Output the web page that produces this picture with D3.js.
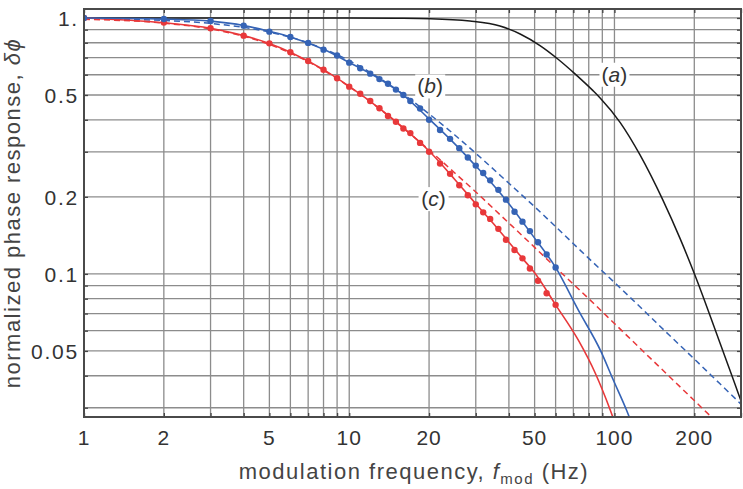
<!DOCTYPE html>
<html>
<head>
<meta charset="utf-8">
<script src="https://cdn.jsdelivr.net/npm/d3@7"></script>
<style>
  html, body { margin: 0; padding: 0; background: #fff; }
  svg { display: block; font-family: "Liberation Sans", Arial, sans-serif; }
</style>
</head>
<body>
<svg id="chart" width="743" height="489"></svg>
<script>
// ---------- data ----------
const xTickValues = [1, 2, 5, 10, 20, 50, 100, 200];
const xTickLabels = ["1", "2", "5", "10", "20", "50", "100", "200"];
const yTickValues = [1, 0.5, 0.2, 0.1, 0.05];
const yTickLabels = ["1.", "0.5", "0.2", "0.1", "0.05"];
const xGrid = [1,2,3,4,5,6,7,8,9,10,20,30,40,50,60,70,80,90,100,200,300];
const yGrid = [0.03,0.04,0.05,0.06,0.07,0.08,0.09,0.1,0.2,0.3,0.4,0.5,0.6,0.7,0.8,0.9,1];

// measured points (frequency in Hz)
const measFreq = [1,2,3,4,5,6,7,8,9,10,11,12,13,14,15,16,17,18.5,20,22,24,26,28,30,32,34,36.5,39,42,45,48,51.5,55.5,60];
const measB = [1.0,0.991,0.973,0.933,0.884,0.843,0.799,0.752,0.713,0.669,0.636,0.606,0.577,0.553,0.525,0.500,0.474,0.443,0.400,0.365,0.337,0.310,0.285,0.265,0.248,0.232,0.213,0.195,0.175,0.160,0.147,0.133,0.119,0.106];
const measC = [1.0,0.959,0.912,0.853,0.796,0.735,0.679,0.628,0.581,0.539,0.506,0.474,0.444,0.414,0.393,0.370,0.355,0.325,0.300,0.270,0.246,0.222,0.203,0.187,0.174,0.164,0.150,0.136,0.124,0.115,0.105,0.094,0.084,0.0757];

// model curve (a)
const curveAFreq = [1,5,10,15,20.2,28.5,37,44.1,52.4,61.3,71,83,88.3,105,125,152,177,201,250,298,310];
const curveAVal  = [1,1,1,0.998,0.994,0.973,0.930,0.866,0.780,0.690,0.605,0.520,0.487,0.391,0.291,0.195,0.137,0.099,0.0537,0.0325,0.0289];

// fitted solid curves (b) and (c)
const fitBFreq = [1,2,3,4,5,6,8,10,13,16,20,25,30,35,40,45,50,60,73,89,99,111,118];
const fitBVal  = [1,0.99,0.972,0.935,0.886,0.843,0.754,0.67,0.578,0.500,0.403,0.322,0.264,0.222,0.188,0.16,0.138,0.106,0.0723,0.0497,0.0385,0.0294,0.025];
const fitCFreq = [1,2,3,4,5,6,8,10,13,16,20,25,30,35,40,45,50,60,73,84.6,96.4,102];
const fitCVal  = [1,0.958,0.912,0.853,0.795,0.735,0.628,0.54,0.443,0.372,0.302,0.234,0.188,0.157,0.133,0.115,0.101,0.0757,0.0552,0.041,0.0294,0.025];

// dashed single-pole asymptotic curves (b) and (c)
const dashBFreq = [1,2,3,5,7,10,13,16,20,25,30,40,50,60,80,100,130,160,200,250,300];
const dashBVal  = [0.994,0.978,0.952,0.881,0.799,0.681,0.582,0.503,0.422,0.349,0.296,0.226,0.183,0.153,0.115,0.0926,0.0714,0.058,0.0465,0.0372,0.031];
const dashCFreq = [1,2,3,5,7,10,13,16,20,25,30,40,50,60,80,100,130,160,200,240];
const dashCVal  = [0.988,0.954,0.906,0.788,0.675,0.539,0.442,0.371,0.305,0.248,0.209,0.158,0.127,0.106,0.080,0.064,0.0492,0.040,0.032,0.0267];

const labelText = ["a", "b", "c"];
const labelPos = [[100, 0.6], [20.2, 0.54], [20.8, 0.196]];

// ---------- drawing ----------
const L = 84, R = 741, T = 9, B = 417;
const svg = d3.select("#chart");

const x = d3.scaleLog().domain([1, 300]).range([L, R]);
const y = d3.scaleLog().domain([0.0276, 1.084]).range([B, T]);

const blue = "#3563b5", red = "#e8383a", gridC = "#8c8c8c", frameC = "#4a4a4a";

// grid
svg.append("g").selectAll("line").data(xGrid).join("line")
  .attr("x1", d => x(d)).attr("x2", d => x(d)).attr("y1", T).attr("y2", B)
  .attr("stroke", gridC).attr("stroke-width", 1.3);
svg.append("g").selectAll("line").data(yGrid).join("line")
  .attr("x1", L).attr("x2", R).attr("y1", d => y(d)).attr("y2", d => y(d))
  .attr("stroke", gridC).attr("stroke-width", 1.3);

// axes via d3 (inward ticks)
function styleAxis(g) {
  g.select(".domain").remove();
  g.selectAll("line").attr("stroke", "#444").attr("stroke-width", 1.3);
}
svg.append("g").attr("transform", `translate(0,${B})`)
  .call(d3.axisBottom(x).tickValues(xGrid).tickSize(-4).tickFormat("")).call(styleAxis);
svg.append("g").attr("transform", `translate(0,${T})`)
  .call(d3.axisTop(x).tickValues(xGrid).tickSize(-4).tickFormat("")).call(styleAxis);
svg.append("g").attr("transform", `translate(${R},0)`)
  .call(d3.axisRight(y).tickValues(yGrid).tickSize(-4).tickFormat("")).call(styleAxis);
svg.append("g").attr("transform", `translate(${L},0)`)
  .call(d3.axisLeft(y).tickValues(yGrid).tickSize(-4).tickFormat("")).call(styleAxis);

// tick labels
const tickFont = 21;
svg.append("g").selectAll("text").data(xTickValues).join("text")
  .attr("x", d => x(d)).attr("y", B + 28)
  .attr("text-anchor", "middle").attr("font-size", tickFont).attr("fill", "#333")
  .attr("letter-spacing", 1)
  .text((d, i) => xTickLabels[i]);
svg.append("g").selectAll("text").data(yTickValues).join("text")
  .attr("x", L - 5).attr("y", d => y(d) + 8)
  .attr("text-anchor", "end").attr("font-size", tickFont).attr("fill", "#333")
  .attr("letter-spacing", 1.8)
  .text((d, i) => yTickLabels[i]);

// clip
svg.append("clipPath").attr("id", "clip").append("rect")
  .attr("x", L).attr("y", T).attr("width", R - L).attr("height", B - T);
const plot = svg.append("g").attr("clip-path", "url(#clip)");

const line = d3.line().x(d => x(d[0])).y(d => y(d[1])).curve(d3.curveMonotoneX);
const zip = (a, b) => a.map((v, i) => [v, b[i]]);

plot.append("path").attr("d", line(zip(dashBFreq, dashBVal)))
  .attr("fill", "none").attr("stroke", blue).attr("stroke-width", 1.5).attr("stroke-dasharray", "6,4");
plot.append("path").attr("d", line(zip(dashCFreq, dashCVal)))
  .attr("fill", "none").attr("stroke", red).attr("stroke-width", 1.5).attr("stroke-dasharray", "6,4");
plot.append("path").attr("d", line(zip(curveAFreq, curveAVal)))
  .attr("fill", "none").attr("stroke", "#1a1a1a").attr("stroke-width", 1.5);
plot.append("path").attr("d", line(zip(fitCFreq, fitCVal)))
  .attr("fill", "none").attr("stroke", red).attr("stroke-width", 1.6);
plot.append("path").attr("d", line(zip(fitBFreq, fitBVal)))
  .attr("fill", "none").attr("stroke", blue).attr("stroke-width", 1.6);

plot.append("g").selectAll("circle").data(zip(measFreq, measC)).join("circle")
  .attr("cx", d => x(d[0])).attr("cy", d => y(d[1])).attr("r", 3.2).attr("fill", red);
plot.append("g").selectAll("circle").data(zip(measFreq, measB)).join("circle")
  .attr("cx", d => x(d[0])).attr("cy", d => y(d[1])).attr("r", 3.2).attr("fill", blue);

// frame
svg.append("rect").attr("x", L).attr("y", T).attr("width", R - L).attr("height", B - T)
  .attr("fill", "none").attr("stroke", frameC).attr("stroke-width", 2);

// curve labels
labelText.forEach((t, i) => {
  const cx = x(labelPos[i][0]), cy = y(labelPos[i][1]);
  svg.append("rect").attr("x", cx - 15).attr("y", cy - 12).attr("width", 30).attr("height", 24).attr("fill", "#fff");
  const tx = svg.append("text").attr("x", cx).attr("y", cy + 7)
    .attr("text-anchor", "middle").attr("font-size", 21).attr("fill", "#333");
  tx.append("tspan").text("(");
  tx.append("tspan").attr("font-style", "italic").text(t);
  tx.append("tspan").text(")");
});

// axis titles
const xt = svg.append("text").attr("x", 414).attr("y", 479).attr("text-anchor", "middle")
  .attr("font-size", 22).attr("fill", "#444").attr("letter-spacing", 1.5);
xt.append("tspan").text("modulation frequency, ");
xt.append("tspan").attr("font-style", "italic").text("f");
xt.append("tspan").attr("font-size", 15).attr("dy", 5).text("mod");
xt.append("tspan").attr("dy", -5).text(" (Hz)");

const yt = svg.append("text").attr("transform", `translate(20,${(T + B) / 2}) rotate(-90)`)
  .attr("text-anchor", "middle").attr("font-size", 22).attr("fill", "#444").attr("letter-spacing", 1.5);
yt.append("tspan").text("normalized phase response, ");
yt.append("tspan").attr("font-style", "italic").text("δϕ");
</script>
</body>
</html>
